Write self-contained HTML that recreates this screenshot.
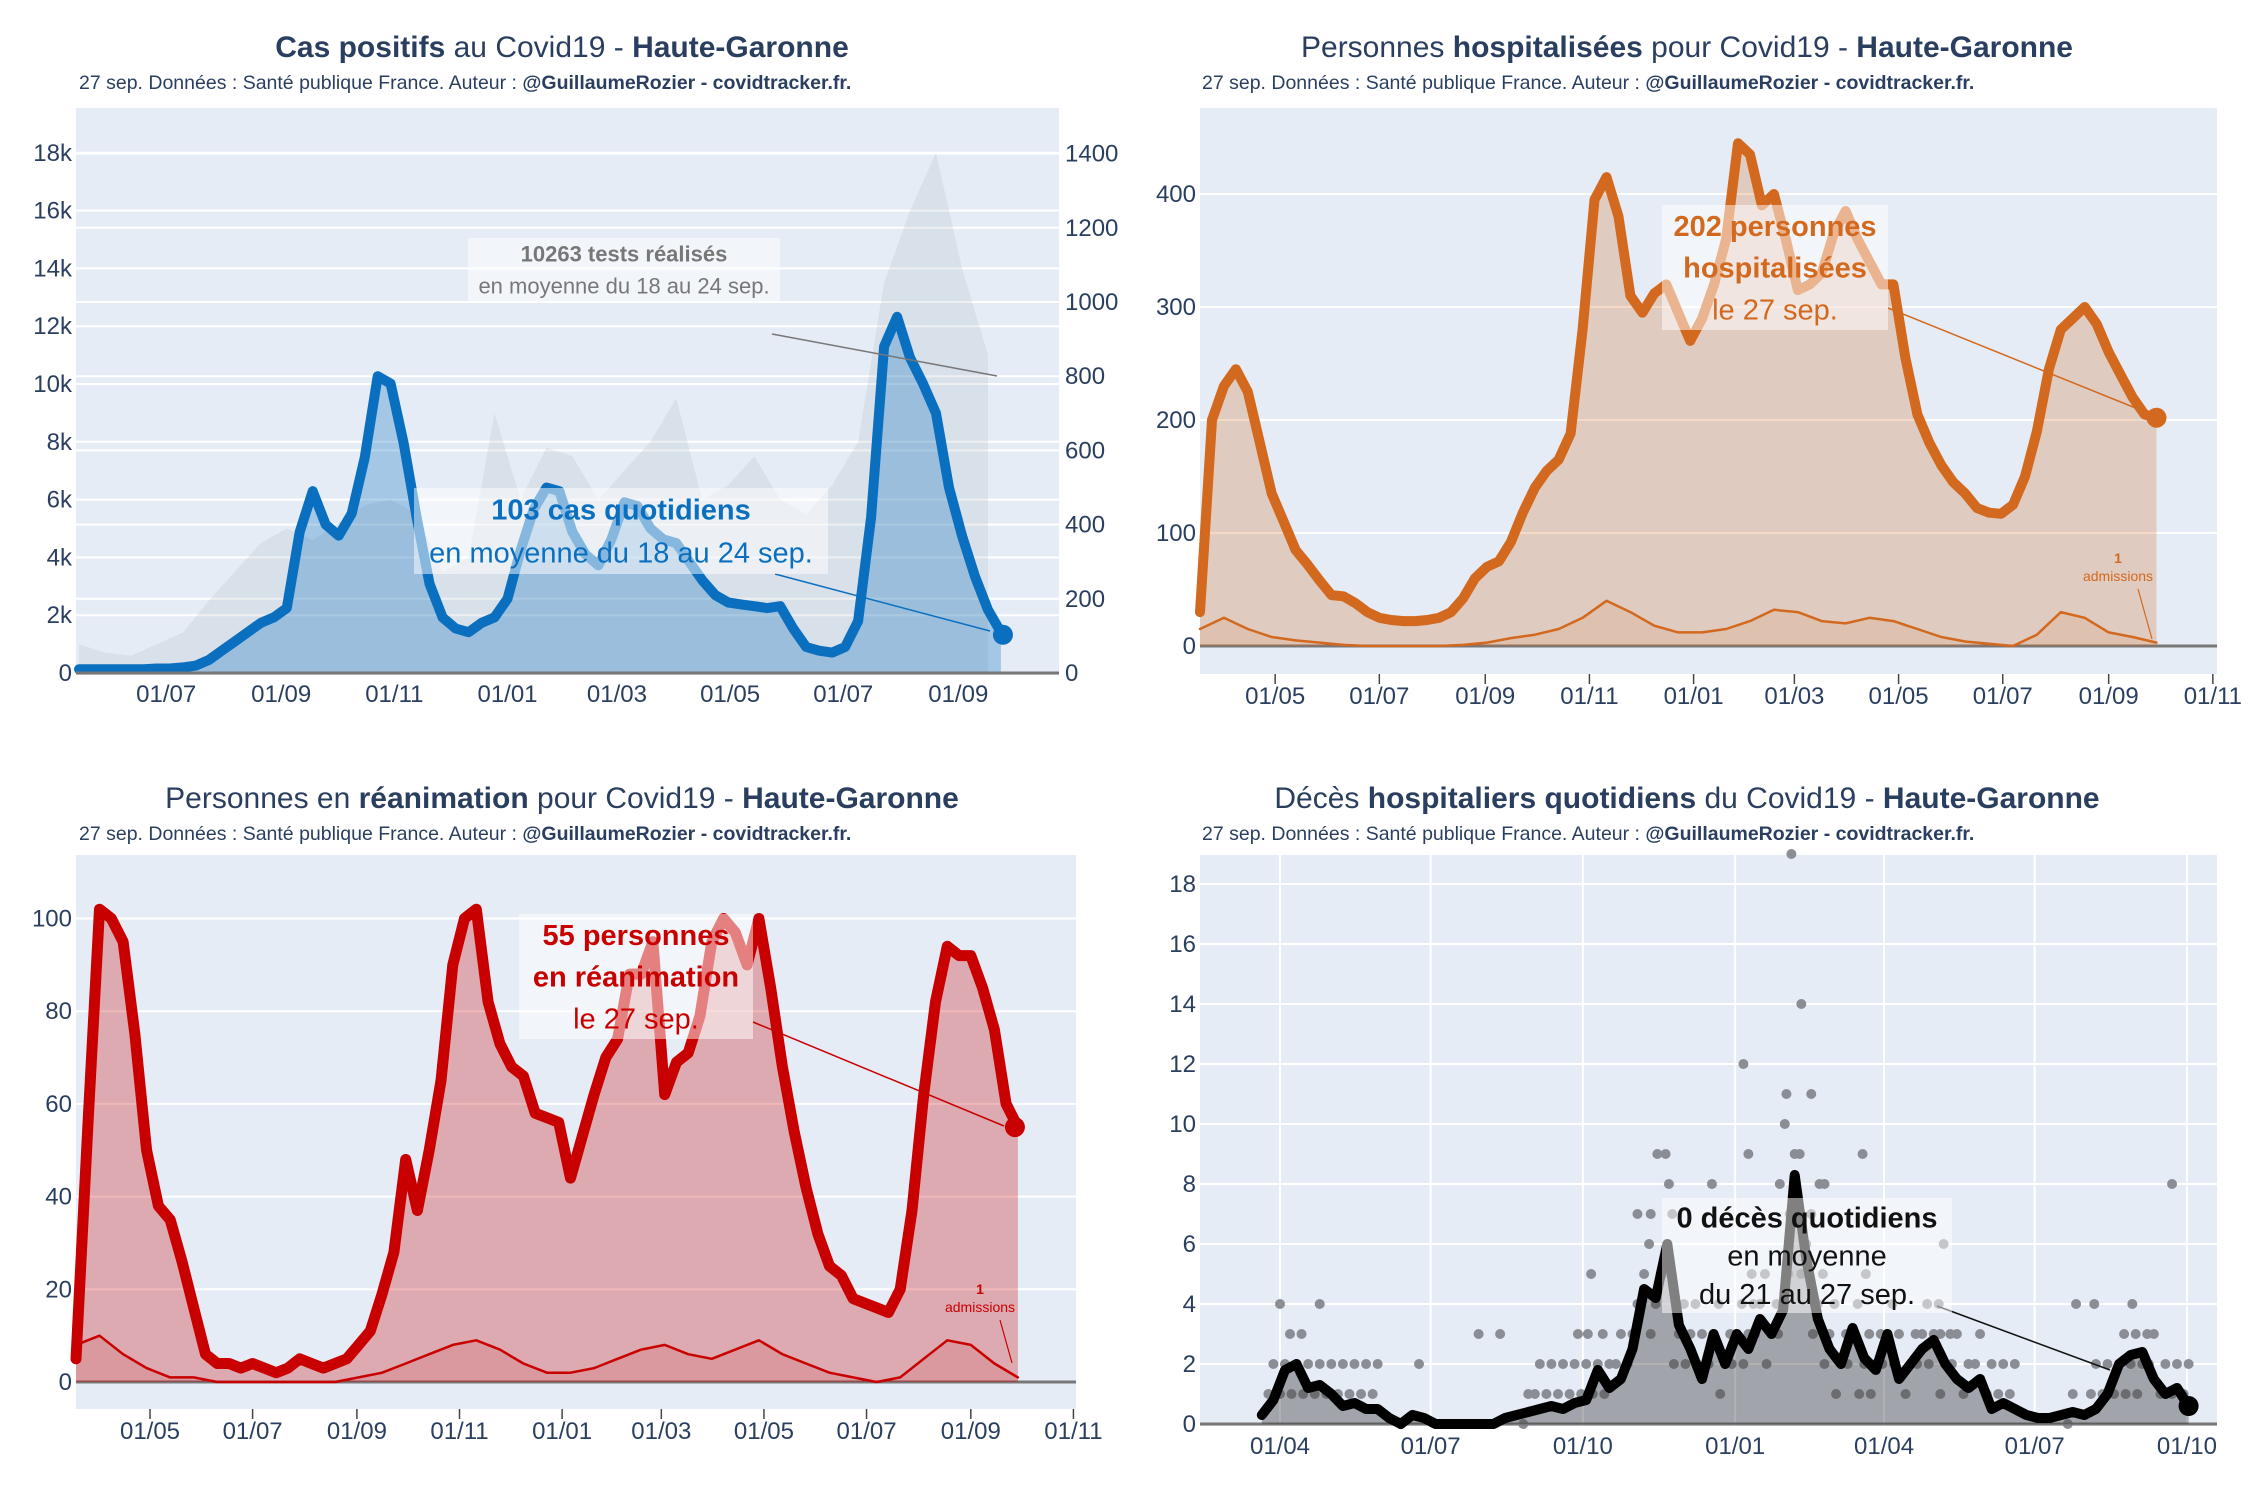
<!DOCTYPE html>
<html><head><meta charset="utf-8"><style>
html,body{margin:0;padding:0;background:#fff}
svg{display:block;font-family:"Liberation Sans",sans-serif}
</style></head><body>
<svg id="c" width="2250" height="1500" viewBox="0 0 2250 1500" xmlns="http://www.w3.org/2000/svg"></svg>
<script>
// ---------- DATA ----------
const casesStart = '2020-05-15';
const casesWeekly = [10,10,10,10,10,10,12,12,15,20,35,60,85,110,135,150,175,380,490,400,370,430,580,800,780,620,420,240,150,120,110,135,150,200,330,440,500,490,380,320,290,360,460,450,390,360,350,300,250,210,190,185,180,175,180,120,70,60,55,70,140,420,880,960,850,780,700,500,370,260,170,110];
const casesLast = 103;
const testsBiweekly = [1.0,0.7,0.6,1.0,1.4,2.5,3.5,4.5,5.0,4.6,5.2,5.8,6.0,5.5,3.5,4.0,9.0,6.0,7.8,7.5,6.0,7.0,8.0,9.5,6.0,6.5,7.5,6.0,5.5,6.5,8.0,13.5,16.0,18.0,14.0,11.0];
const p1LeftTicks = [0,2,4,6,8,10,12,14,16,18];
const p1RightTicks = [0,200,400,600,800,1000,1200,1400];
const p1XTicks = ['2020-07-01','2020-09-01','2020-11-01','2021-01-01','2021-03-01','2021-05-01','2021-07-01','2021-09-01'];

const hospStart = '2020-03-18';
const hospWeekly = [30,200,230,245,225,180,135,110,85,72,58,45,44,38,30,25,23,22,22,23,25,30,42,60,70,75,92,118,140,155,165,188,280,395,415,380,310,295,312,320,295,270,290,320,360,445,435,390,400,360,315,320,330,365,385,360,340,320,320,255,205,180,160,145,135,122,118,117,125,150,190,245,280,290,300,285,260,240,220,205,202];
const hospAdmBiweekly = [15,25,15,8,5,3,1,0,0,0,0,1,3,7,10,15,25,40,30,18,12,12,15,22,32,30,22,20,25,22,15,8,4,2,0,10,30,25,12,8,3];
const p2YTicks = [0,100,200,300,400];
const p23XTicks = ['2020-05-01','2020-07-01','2020-09-01','2020-11-01','2021-01-01','2021-03-01','2021-05-01','2021-07-01','2021-09-01','2021-11-01'];

const reaStart = '2020-03-18';
const reaWeekly = [5,55,102,100,95,75,50,38,35,26,16,6,4,4,3,4,3,2,3,5,4,3,4,5,8,11,19,28,48,37,50,65,90,100,102,82,73,68,66,58,57,56,44,53,62,70,74,88,88,95,62,69,71,79,95,100,97,90,100,85,68,54,42,32,25,23,18,17,16,15,20,37,62,82,94,92,92,85,76,60,55];
const reaAdmBiweekly = [8,10,6,3,1,1,0,0,0,0,0,0,1,2,4,6,8,9,7,4,2,2,3,5,7,8,6,5,7,9,6,4,2,1,0,1,5,9,8,4,1];
const p3YTicks = [0,20,40,60,80,100];

const dcStart = '2020-03-21';
const dcWeekly = [0.3,0.8,1.8,2.0,1.2,1.3,1.0,0.6,0.7,0.5,0.5,0.2,0,0.3,0.2,0,0,0,0,0,0,0.2,0.3,0.4,0.5,0.6,0.5,0.7,0.8,1.8,1.2,1.5,2.5,4.5,4.2,6.0,3.3,2.5,1.5,3.0,2.0,3.0,2.5,3.5,3.0,3.8,8.3,5.5,3.5,2.5,2.0,3.2,2.2,1.8,3.0,1.5,2.0,2.5,2.8,2.0,1.5,1.2,1.5,0.5,0.7,0.5,0.3,0.2,0.2,0.3,0.4,0.3,0.5,1.0,2.0,2.3,2.4,1.5,1.0,1.2,0.6];
const dcDotDays = [320,326,291,317,332,316,239,244,294,322,363,550,246,272,313,337,340,227,235,11,35,492,526,503,199,296,365,412,191,197,131,144,410,95];
const dcDotVals = [19,14,12,11,11,10,9,9,9,9,9,8,8,8,8,8,8,7,7,4,4,4,4,4,5,5,5,6,3,3,3,3,3,2];
const p4YTicks = [0,2,4,6,8,10,12,14,16,18];
const p4XTicks = ['2020-04-01','2020-07-01','2020-10-01','2021-01-01','2021-04-01','2021-07-01','2021-10-01'];

// ---------- DRAW ----------
const svg = document.getElementById('c');
const NS = 'http://www.w3.org/2000/svg';
function mk(tag, attrs, parent){const e=document.createElementNS(NS,tag);for(const k in attrs)e.setAttribute(k,attrs[k]);(parent||svg).appendChild(e);return e;}
function days(a,b){return (Date.parse(b)-Date.parse(a))/86400000;}
function lbl(d){return d.slice(8,10)+'/'+d.slice(5,7);}
const TXT='#2a3f5f';

function makePanel(o){
  const g=mk('g',{});
  
  
  const bg=mk('rect',{x:o.L,y:o.T,width:o.R-o.L,height:o.B-o.T,fill:'#e5ecf6'},g);
  
  
  o.g=g;
  o.x=d=>o.x0+days(o.d0,d)*o.ppd;
  o.xi=(start,i,step)=>o.x0+(days(o.d0,start)+i*step)*o.ppd;
  o.y=v=>o.zero-v*o.ppy;
  return o;
}
function title(cx,y,parts,name){
  const t=mk('text',{x:cx,y:y,'text-anchor':'middle','font-size':30,fill:TXT});
  
  
  parts.forEach(p=>{const s=mk('tspan',{'font-weight':p[1]?'bold':'normal'},t);s.textContent=p[0];});
}
function subtitle(x,y){
  const t=mk('text',{x:x,y:y,'font-size':19.5,fill:TXT});
  
  
  const a=mk('tspan',{},t);a.textContent='27 sep. Données : Santé publique France. Auteur : ';
  const b=mk('tspan',{'font-weight':'bold'},t);b.textContent='@GuillaumeRozier - covidtracker.fr.';
}
function yGrid(p,ticks,fmt,side,yfn,tickName){
  ticks.forEach(v=>{
    const y=yfn(v);
    const l=mk('line',{x1:p.L,x2:p.R,y1:y,y2:y,stroke:'#fff','stroke-width':2},p.g);
    
    
    const t=mk('text',{x:side==='left'?p.L-4:p.R+6,y:y+8,'text-anchor':side==='left'?'end':'start','font-size':24,fill:TXT},p.g);
    
    
    t.textContent=fmt(v);
  });
}
function xTicks(p,ticks,ly,marks,vgrid){
  ticks.forEach(d=>{
    const x=p.x(d);
    if(vgrid){const l=mk('line',{x1:x,x2:x,y1:p.T,y2:p.B,stroke:'#fff','stroke-width':2},p.g);
      
      }
    if(marks){const l=mk('line',{x1:x,x2:x,y1:p.B,y2:p.B+10,stroke:'#444','stroke-width':1.5},p.g);
      
      }
    const t=mk('text',{x:x,y:ly,'text-anchor':'middle','font-size':24,fill:TXT},p.g);
    
    
    t.textContent=lbl(d);
  });
}
function series(p,start,step,vals,yfn,name,stroke,sw,fill){
  const pts=vals.map((v,i)=>[p.xi(start,i,step),yfn(v)]);
  const line='M'+pts.map(q=>q[0].toFixed(1)+','+q[1].toFixed(1)).join('L');
  if(fill){
    const z=yfn(0);
    const a=mk('path',{d:line+'L'+pts[pts.length-1][0].toFixed(1)+','+z+'L'+pts[0][0].toFixed(1)+','+z+'Z',fill:fill,stroke:'none'},p.g);
    
    
  }
  if(stroke){
    const l=mk('path',{d:line,fill:'none',stroke:stroke,'stroke-width':sw,'stroke-linejoin':'round','stroke-linecap':'round'},p.g);
    
    
  }
  return pts;
}
function zeroLine(p){
  const l=mk('line',{x1:p.L,x2:p.R,y1:p.zero,y2:p.zero,stroke:'#777','stroke-width':3},p.g);
  
  
}
function annot(p,x,y,w,h,lines,color,name,lx1,ly1,lx2,ly2,fs){
  const l=mk('line',{x1:lx1,y1:ly1,x2:lx2,y2:ly2,stroke:color,'stroke-width':1.5},p.g);
  
  
  const r=mk('rect',{x:x,y:y,width:w,height:h,fill:'rgba(255,255,255,0.5)'},p.g);
  
  
  const lh=h/lines.length;
  lines.forEach((ln,i)=>{
    const t=mk('text',{x:x+w/2,y:y+lh*(i+0.5)+fs*0.35,'text-anchor':'middle','font-size':fs,fill:color,'font-weight':ln[1]?'bold':'normal'},p.g);
    
    
    t.textContent=ln[0];
  });
}
function endDot(p,x,y,color,r){
  const c=mk('circle',{cx:x,cy:y,r:r,fill:color},p.g);
  
  
}
function smallNote(p,x,y,color,lx2,ly2){
  const t1=mk('text',{x:x,y:y,'text-anchor':'middle','font-size':14,'font-weight':'bold',fill:color},p.g);
  
  
  t1.textContent='1';
  const t2=mk('text',{x:x,y:y+18,'text-anchor':'middle','font-size':14,fill:color},p.g);
  
  
  t2.textContent='admissions';
  const l=mk('line',{x1:x+20,y1:y+26,x2:lx2,y2:ly2,stroke:color,'stroke-width':1.2},p.g);
  
  
}

// ===== Panel 1 =====
const p1=makePanel({name:'cases-chart',L:76,R:1059,T:108,B:675,zero:673,x0:79,d0:'2020-05-15',ppd:1.855,ppy:0.371});
const yL=v=>p1.zero-v*28.9;
yGrid(p1,p1LeftTicks,v=>v===0?'0':v+'k','left',yL,'y-left-tick-label');
yGrid(p1,p1RightTicks,v=>String(v),'right',p1.y,'y-right-tick-label');
series(p1,casesStart,14,testsBiweekly,yL,'tests',null,0,'rgba(175,180,192,0.22)');
const cp=series(p1,casesStart,7,casesWeekly,p1.y,'cases','#0b6fbf',10,'rgba(11,112,190,0.3)');
zeroLine(p1);
xTicks(p1,p1XTicks,702,false,false);
endDot(p1,cp[cp.length-1][0]+2,p1.y(casesLast),'#0b6fbf',10);
annot(p1,468,238,312,64,[['10263 tests réalisés',1],['en moyenne du 18 au 24 sep.',0]],'#777','tests-annotation',772,334,997,376,22);
annot(p1,414,488,414,86,[['103 cas quotidiens',1],['en moyenne du 18 au 24 sep.',0]],'#0b6fbf','cases-annotation',775,574,990,631,29);
title(562,57,[['Cas positifs',1],[' au Covid19 - ',0],['Haute-Garonne',1]],'cases-title');
subtitle(79,89);

// ===== Panel 2 =====
const p2=makePanel({name:'hospital-chart',L:1200,R:2217,T:108,B:674,zero:646,x0:1200,d0:'2020-03-18',ppd:1.708,ppy:1.13});
yGrid(p2,p2YTicks,v=>String(v),'left',p2.y,'y-tick-label');
zeroLine(p2);
const hp=series(p2,hospStart,7,hospWeekly,p2.y,'hospitalised','#d2691e',10,'rgba(210,105,30,0.25)');
series(p2,hospStart,14,hospAdmBiweekly,p2.y,'hosp-admissions','#d2691e',2.5,'rgba(210,105,30,0.1)');
xTicks(p2,p23XTicks,704,true,false);
endDot(p2,hp[hp.length-1][0],hp[hp.length-1][1],'#d2691e',10);
annot(p2,1662,205,226,125,[['202 personnes',1],['hospitalisées',1],['le 27 sep.',0]],'#d2691e','hosp-annotation',1888,308,2138,409,29);
smallNote(p2,2118,563,'#d2691e',2152,639);
title(1687,57,[['Personnes ',0],['hospitalisées',1],[' pour Covid19 - ',0],['Haute-Garonne',1]],'hospital-title');
subtitle(1202,89);

// ===== Panel 3 =====
const p3=makePanel({name:'icu-chart',L:76,R:1076,T:855,B:1409,zero:1382,x0:76,d0:'2020-03-18',ppd:1.682,ppy:4.635});
yGrid(p3,p3YTicks,v=>String(v),'left',p3.y,'y-tick-label');
zeroLine(p3);
const rp=series(p3,reaStart,7,reaWeekly,p3.y,'icu','#c80000',11,'rgba(200,0,0,0.28)');
series(p3,reaStart,14,reaAdmBiweekly,p3.y,'icu-admissions','#c80000',2.5,'rgba(200,0,0,0.1)');
xTicks(p3,p23XTicks,1439,true,false);
endDot(p3,rp[rp.length-1][0]-3,rp[rp.length-1][1],'#c80000',10);
annot(p3,519,914,234,125,[['55 personnes',1],['en réanimation',1],['le 27 sep.',0]],'#c80000','icu-annotation',753,1022,1004,1126,29);
smallNote(p3,980,1294,'#c80000',1012,1363);
title(562,808,[['Personnes en ',0],['réanimation',1],[' pour Covid19 - ',0],['Haute-Garonne',1]],'icu-title');
subtitle(79,840);

// ===== Panel 4 =====
const p4=makePanel({name:'deaths-chart',L:1200,R:2217,T:855,B:1426,zero:1424,x0:1280,d0:'2020-04-01',ppd:1.655,ppy:30.0});
yGrid(p4,p4YTicks,v=>String(v),'left',p4.y,'y-tick-label');
xTicks(p4,p4XTicks,1454,false,true);
dcWeekly.forEach((v,i)=>{
  if(v<=0.3) return;
  const x=p4.xi(dcStart,i,7);
  const base=Math.round(v);
  const ks=v>1.5?[base-1,base,base+1]:[base,base+1];
  ks.forEach((k,j)=>{
    const c=mk('circle',{cx:x+(j-1)*5,cy:p4.y(k),r:5,fill:'#8a8d93'},p4.g);
    
    
  });
});
dcDotDays.forEach((d,i)=>{
  const c=mk('circle',{cx:p4.xi(dcStart,d,1),cy:p4.y(dcDotVals[i]),r:5,fill:'#8a8d93'},p4.g);
  
  
});
zeroLine(p4);
const dp=series(p4,dcStart,7,dcWeekly,p4.y,'deaths','#000',10,'rgba(60,60,60,0.4)');
endDot(p4,dp[dp.length-1][0],dp[dp.length-1][1],'#000',10);
annot(p4,1662,1198,290,115,[['0 décès quotidiens',1],['en moyenne',0],['du 21 au 27 sep.',0]],'#111','deaths-annotation',1937,1306,2110,1370,29);
title(1687,808,[['Décès ',0],['hospitaliers quotidiens',1],[' du Covid19 - ',0],['Haute-Garonne',1]],'deaths-title');
subtitle(1202,840);
</script>
</body></html>
